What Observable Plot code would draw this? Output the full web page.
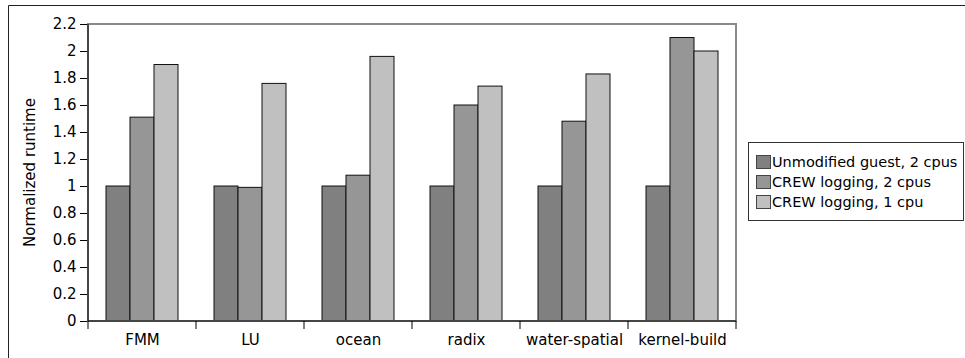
<!DOCTYPE html>
<html>
<head>
<meta charset="utf-8">
<script src="https://cdn.jsdelivr.net/npm/d3@7"></script>
<script src="https://cdn.jsdelivr.net/npm/@observablehq/plot@0.6"></script>
<style>
  body { margin: 0; background: #fff; font-family: "DejaVu Sans", sans-serif; }
  #wrap { position: relative; width: 965px; height: 358px; overflow: hidden; }
  #legend { position: absolute; left: 748px; top: 142px; width: 216px; height: 79px;
            box-sizing: border-box; border: 1px solid #333; background: #fff;
            padding: 9px 0 0 7px; font-size: 14.5px; color: #000; }
  .row { height: 20px; display: flex; align-items: center; white-space: nowrap; }
  .sw { width: 13px; height: 12px; border: 1px solid #444; margin-right: 1px; flex: none; }
</style>
</head>
<body>
<div id="wrap"></div>
<script>
const categories = ["FMM", "LU", "ocean", "radix", "water-spatial", "kernel-build"];
const seriesNames = ["Unmodified guest, 2 cpus", "CREW logging, 2 cpus", "CREW logging, 1 cpu"];
const unmodified2cpu = [1.00, 1.00, 1.00, 1.00, 1.00, 1.00];
const crew2cpu = [1.51, 0.99, 1.08, 1.60, 1.48, 2.10];
const crew1cpu = [1.90, 1.76, 1.96, 1.74, 1.83, 2.00];
const seriesColors = ["#808080", "#969696", "#c0c0c0"];
const yTicks = [0, 0.2, 0.4, 0.6, 0.8, 1, 1.2, 1.4, 1.6, 1.8, 2, 2.2];
const yLabel = "Normalized runtime";

const seriesValues = [unmodified2cpu, crew2cpu, crew1cpu];
const data = [];
categories.forEach((c, i) => {
  seriesNames.forEach((s, j) => data.push({category: c, series: s, value: seriesValues[j][i]}));
});

const W = 965, H = 358;
const mL = 85, mR = 227, mT = 24, mB = 37;

const plot = Plot.plot({
  width: W, height: H,
  marginLeft: mL, marginRight: mR, marginTop: mT, marginBottom: mB,
  style: {fontFamily: "DejaVu Sans, sans-serif", fontSize: "15px", background: "transparent", color: "#000", overflow: "visible"},
  fx: {domain: categories, padding: 0, label: null, axis: "bottom", tickSize: 0, tickPadding: 13},
  x: {domain: seriesNames, paddingInner: 0, paddingOuter: 0.74, axis: null},
  y: {domain: [0, 2.2], ticks: yTicks, tickSize: 8, tickPadding: 4, label: null,
      tickFormat: d => String(d)},
  color: {domain: seriesNames, range: seriesColors},
  marks: [
    Plot.barY(data, {fx: "category", x: "series", y: "value", fill: "series", stroke: "#111", strokeWidth: 1}),
    Plot.ruleY([0], {stroke: "#000", strokeWidth: 1})
  ]
});

const svg = d3.select(plot);
const fx = plot.scale("fx");
const ys = plot.scale("y");
const frameLeft = fx.apply(categories[0]);
const frameRight = fx.apply(categories[categories.length - 1]) + fx.bandwidth;
const frameTop = ys.apply(2.2), frameBottom = ys.apply(0);

// plot frame (gray)
svg.append("rect").attr("x", frameLeft).attr("y", frameTop).attr("width", frameRight - frameLeft).attr("height", frameBottom - frameTop)
  .attr("fill", "none").attr("stroke", "#8a8a8a").attr("stroke-width", 2);
// axis lines
svg.append("line").attr("x1", frameLeft).attr("x2", frameLeft).attr("y1", frameTop).attr("y2", frameBottom).attr("stroke", "#000");
svg.append("line").attr("x1", frameLeft).attr("x2", frameRight).attr("y1", frameBottom).attr("y2", frameBottom).attr("stroke", "#000");
// category boundary ticks
const bounds = categories.map(c => fx.apply(c)).concat([frameRight]);
svg.append("g").selectAll("line").data(bounds).join("line")
  .attr("x1", d => d).attr("x2", d => d).attr("y1", frameBottom).attr("y2", frameBottom + 8).attr("stroke", "#000");
// y label
svg.append("text").attr("transform", `translate(30,${(frameTop + frameBottom) / 2}) rotate(-90)`)
  .attr("text-anchor", "middle").attr("dominant-baseline", "central")
  .attr("font-size", 15).attr("fill", "#000").text(yLabel);
// outer border (top and left)
svg.append("line").attr("x1", 8.5).attr("x2", W).attr("y1", 5.5).attr("y2", 5.5).attr("stroke", "#222");
svg.append("line").attr("x1", 8.5).attr("x2", 8.5).attr("y1", 5.5).attr("y2", H).attr("stroke", "#222");

const wrap = document.getElementById("wrap");
wrap.appendChild(plot);

const legend = document.createElement("div");
legend.id = "legend";
seriesNames.forEach((s, i) => {
  const row = document.createElement("div");
  row.className = "row";
  const sw = document.createElement("span");
  sw.className = "sw";
  sw.style.background = seriesColors[i];
  const t = document.createElement("span");
  t.textContent = s;
  row.appendChild(sw); row.appendChild(t);
  legend.appendChild(row);
});
wrap.appendChild(legend);
</script>
</body>
</html>
